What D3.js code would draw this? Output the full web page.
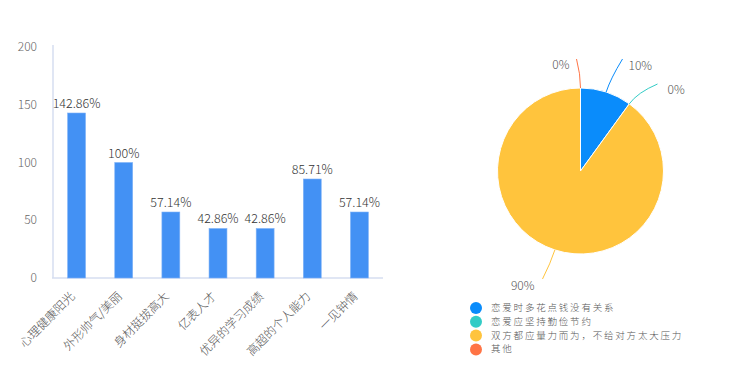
<!DOCTYPE html>
<html>
<head>
<meta charset="utf-8">
<title>chart</title>
<script src="https://d3js.org/d3.v7.min.js"></script>
<style>
  body { margin: 0; background: #fff; }
  svg text { font-family: "Noto Sans CJK SC", "Noto Sans", sans-serif; font-weight: 300; }
</style>
</head>
<body>
<svg id="chart" width="743" height="369"></svg>
<script>
// bar chart data
var categories = ["心理健康阳光", "外形帅气/美丽", "身材挺拔高大", "亿表人才", "优异的学习成绩", "高超的个人能力", "一见钟情"];
var barValues = [142.86, 100, 57.14, 42.86, 42.86, 85.71, 57.14];
var barLabels = ["142.86%", "100%", "57.14%", "42.86%", "42.86%", "85.71%", "57.14%"];
var yTicks = [0, 50, 100, 150, 200];

// pie data
var pieNames = ["恋爱时多花点钱没有关系", "恋爱应坚持勤俭节约", "双方都应量力而为，不给对方太大压力", "其他"];
var pieValues = [10, 0, 90, 0];
var pieLabels = ["10%", "0%", "90%", "0%"];
var pieColors = ["#0a8cfb", "#33ccc6", "#ffc43d", "#ff7445"];

var svg = d3.select("#chart");

// ---- bars ----
var x = d3.scaleBand()
    .domain(categories)
    .range([53, 383])
    .paddingInner(0.62)
    .paddingOuter(0.31);

var y = d3.scaleLinear()
    .domain([0, 200])
    .range([278, 47]);

// axis lines
svg.append("line")
    .attr("x1", 53).attr("x2", 53)
    .attr("y1", 45).attr("y2", y(0))
    .attr("stroke", "#d6def0").attr("stroke-width", 1.5);
svg.append("line")
    .attr("x1", 52).attr("x2", 383)
    .attr("y1", y(0)).attr("y2", y(0))
    .attr("stroke", "#d6def0").attr("stroke-width", 1.5);

svg.append("g")
    .selectAll("text")
    .data(yTicks)
    .enter().append("text")
    .attr("x", 37)
    .attr("y", function(d) { return y(d) + 4; })
    .attr("text-anchor", "end")
    .attr("fill", "#666")
    .style("font-size", "12px")
    .text(function(d) { return d; });

svg.append("g")
    .selectAll("rect")
    .data(barValues)
    .enter().append("rect")
    .attr("x", function(d, i) { return x(categories[i]); })
    .attr("y", function(d) { return y(d); })
    .attr("width", x.bandwidth())
    .attr("height", function(d) { return y(0) - y(d); })
    .attr("fill", "#4391f4")
    .attr("stroke", "#7fb2f7")
    .attr("stroke-width", 0.6);

svg.append("g")
    .selectAll("text")
    .data(barValues)
    .enter().append("text")
    .attr("x", function(d, i) { return x(categories[i]) + x.bandwidth() / 2; })
    .attr("y", function(d) { return y(d) - 5; })
    .attr("text-anchor", "middle")
    .attr("fill", "#333")
    .style("font-size", "12.5px")
    .text(function(d, i) { return barLabels[i]; });

svg.append("g")
    .selectAll("text")
    .data(categories)
    .enter().append("text")
    .attr("transform", function(d) {
      return "translate(" + (x(d) + x.bandwidth() / 2 - 1) + "," + (y(0) + 19) + ") rotate(-45)";
    })
    .attr("text-anchor", "end")
    .attr("fill", "#555")
    .style("font-size", "12px")
    .text(function(d) { return d; });

// ---- pie ----
var cx = 580.5, cy = 171, r = 83;
var pie = d3.pie().sort(null).value(function(d) { return d; });
var arcs = pie(pieValues);
var arc = d3.arc().innerRadius(0).outerRadius(r);

var pg = svg.append("g").attr("transform", "translate(" + cx + "," + cy + ")");

pg.selectAll("path.slice")
    .data(arcs)
    .enter().append("path")
    .attr("class", "slice")
    .attr("d", arc)
    .attr("fill", function(d, i) { return pieColors[i]; })
    .attr("stroke", "#fff")
    .attr("stroke-width", function(d) { return d.value > 0 ? 1 : 0; });

// label leader lines (curved) and text
var labelPos = [
  { tx: 42, ty: -112, lx: 48, ly: -104, anchor: "start" },
  { tx: 77, ty: -87, lx: 87, ly: -80, anchor: "start" },
  { tx: -38, ty: 108, lx: -46, ly: 116, anchor: "end" },
  { tx: -4, ty: -112, lx: -11, ly: -105, anchor: "end" }
];

pg.selectAll("path.lead")
    .data(arcs)
    .enter().append("path")
    .attr("class", "lead")
    .attr("fill", "none")
    .attr("stroke", function(d, i) { return pieColors[i]; })
    .attr("stroke-width", 1)
    .attr("d", function(d, i) {
      var a = (d.startAngle + d.endAngle) / 2;
      var sx = Math.sin(a) * r, sy = -Math.cos(a) * r;
      var mx = Math.sin(a) * (r + 14), my = -Math.cos(a) * (r + 14);
      var p = labelPos[i];
      return "M" + sx + "," + sy + " Q" + mx + "," + my + " " + p.tx + "," + p.ty;
    });

pg.selectAll("text.plabel")
    .data(arcs)
    .enter().append("text")
    .attr("class", "plabel")
    .attr("x", function(d, i) { return labelPos[i].lx; })
    .attr("y", function(d, i) { return labelPos[i].ly; })
    .attr("text-anchor", function(d, i) { return labelPos[i].anchor; })
    .attr("dominant-baseline", "middle")
    .attr("fill", "#555")
    .style("font-size", "12px")
    .text(function(d, i) { return pieLabels[i]; });

// legend
var lg = svg.append("g")
    .selectAll("g")
    .data(pieNames)
    .enter().append("g")
    .attr("transform", function(d, i) { return "translate(476," + (308 + i * 13.8) + ")"; });

lg.append("circle")
    .attr("r", 6)
    .attr("fill", function(d, i) { return pieColors[i]; });

lg.append("text")
    .attr("x", 15)
    .attr("y", 0.5)
    .attr("dominant-baseline", "middle")
    .attr("fill", "#555")
    .style("font-size", "9.5px")
    .style("letter-spacing", "1.8px")
    .text(function(d) { return d; });
</script>
</body>
</html>
